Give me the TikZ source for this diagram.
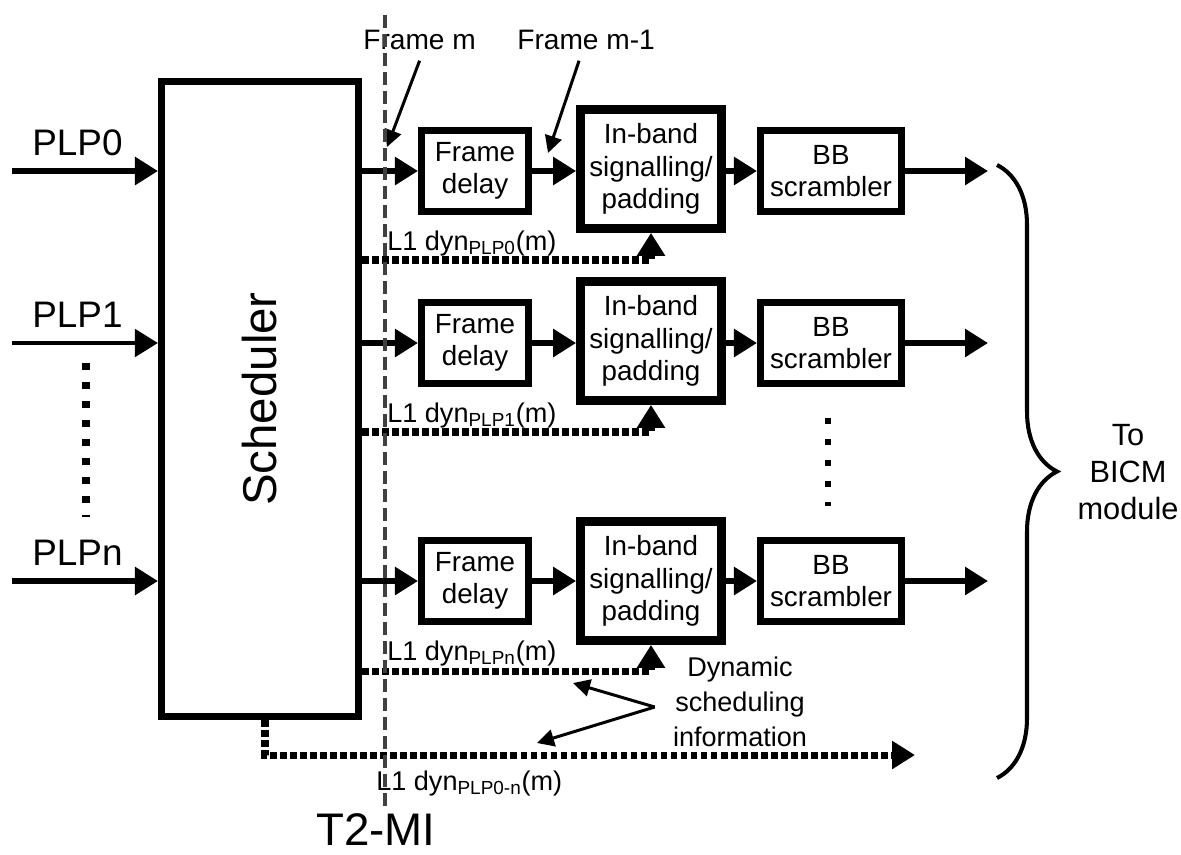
\documentclass[tikz,border=0pt]{standalone}
\usepackage{fontspec}
\setmainfont{Liberation Sans}
\usepackage{tikz}
\usetikzlibrary{positioning,arrows.meta,decorations.pathreplacing}
\usepackage{xcolor}
\definecolor{tmigray}{RGB}{64,64,64}

\begin{document}
\begin{tikzpicture}[
  >={Triangle[length=4.6mm,width=5.4mm]},
  blk/.style={draw,line width=4pt,inner sep=0pt,align=center,font=\fontsize{15.8}{18.5}\selectfont},
  delaybox/.style={blk,minimum width=2.14cm,minimum height=1.62cm},
  inbandbox/.style={blk,line width=5pt,minimum width=2.82cm,minimum height=2.38cm},
  scrbox/.style={blk,minimum width=2.82cm,minimum height=1.62cm},
  flow/.style={line width=3.6pt},
  dyn/.style={line width=4pt,dash pattern=on 3.8pt off 1.9pt},
  ptr/.style={line width=1.7pt,-{Triangle[length=3.4mm,width=3.4mm]}},
  plplab/.style={font=\fontsize{21}{25}\selectfont,inner sep=0pt},
  framelab/.style={font=\fontsize{16}{19}\selectfont,inner sep=0pt,anchor=west},
  dynlab/.style={font=\fontsize{15.4}{18}\selectfont,inner sep=0pt,anchor=base west},
  vdots/.style={line width=4pt,dash pattern=on 4pt off 6.8pt}
]
\useasboundingbox (0,0) rectangle (23.62,-17.08);

% Scheduler
\node[draw,line width=4pt,minimum width=3.94cm,minimum height=12.7cm] (sched) at (5.2,-7.98) {};
\node[rotate=90,font=\fontsize{27}{32}\selectfont] (schedlab) at (sched.center) {Scheduler};

% PLP inputs
\coordinate (in0) at (0.24,-3.42);
\coordinate (in1) at (0.24,-6.86);
\coordinate (inn) at (0.24,-11.62);
\draw[flow,->] (in0) -- (in0 -| sched.west);
\draw[flow,line width=2.8pt,->] (in1) -- (in1 -| sched.west);
\draw[flow,->] (inn) -- (inn -| sched.west);
\node[plplab,above right=0.3cm and 0.4cm of in0] (plp0) {PLP0};
\node[plplab,above right=0.3cm and 0.4cm of in1] (plp1) {PLP1};
\node[plplab,above right=0.3cm and 0.4cm of inn] (plpn) {PLPn};
\draw[vdots] (1.72,-7.26) -- (1.72,-10.34);

% Row 0
\node[delaybox] (fd0) at (9.5,-3.42) {Frame\\delay};
\node[inbandbox] (inb0) at (13.02,-3.38) {In-band\\signalling/\\padding};
\node[scrbox] (bb0) at (16.62,-3.42) {BB\\scrambler};
\coordinate (out0) at (19.76,-3.42);
\draw[flow,->] (sched.east |- fd0) -- (fd0.west);
\draw[flow,->] (fd0.east) -- (fd0.east -| inb0.west);
\draw[flow,->] (bb0.west -| inb0.east) -- (bb0.west);
\draw[flow,->] (bb0.east) -- (out0);
\draw[dyn,->] (sched.east |- 0,-5.2) -| (inb0.south);
\node[dynlab] (l1d0) at (7.74,-5.0) {L1 dyn\textsubscript{PLP0}(m)};

% Row 1
\node[delaybox] (fd1) at (9.5,-6.86) {Frame\\delay};
\node[inbandbox] (inb1) at (13.02,-6.82) {In-band\\signalling/\\padding};
\node[scrbox] (bb1) at (16.62,-6.86) {BB\\scrambler};
\coordinate (out1) at (19.76,-6.86);
\draw[flow,->] (sched.east |- fd1) -- (fd1.west);
\draw[flow,->] (fd1.east) -- (fd1.east -| inb1.west);
\draw[flow,->] (bb1.west -| inb1.east) -- (bb1.west);
\draw[flow,->] (bb1.east) -- (out1);
\draw[dyn,->] (sched.east |- 0,-8.64) -| (inb1.south);
\node[dynlab] (l1d1) at (7.74,-8.44) {L1 dyn\textsubscript{PLP1}(m)};
\draw[vdots,line width=3.4pt,dash pattern=on 3.4pt off 8.5pt] (16.56,-8.36) -- (16.56,-10.12);

% Row n
\node[delaybox] (fdn) at (9.5,-11.62) {Frame\\delay};
\node[inbandbox] (inbn) at (13.02,-11.62) {In-band\\signalling/\\padding};
\node[scrbox] (bbn) at (16.62,-11.62) {BB\\scrambler};
\coordinate (outn) at (19.76,-11.62);
\draw[flow,->] (sched.east |- fdn) -- (fdn.west);
\draw[flow,->] (fdn.east) -- (fdn.east -| inbn.west);
\draw[flow,->] (bbn.west -| inbn.east) -- (bbn.west);
\draw[flow,->] (bbn.east) -- (outn);
\draw[dyn,->] (sched.east |- 0,-13.42) -| (inbn.south);
\node[dynlab] (l1dn) at (7.74,-13.2) {L1 dyn\textsubscript{PLPn}(m)};

% Common dynamic scheduling information
\coordinate (botend) at (18.3,-15.1);
\draw[dyn,->] (sched.south -| 5.3,0) |- (botend);
\node[dynlab] (l1dall) at (7.52,-15.8) {L1 dyn\textsubscript{PLP0-n}(m)};
\node[font=\fontsize{15.4}{20}\selectfont,align=center,inner sep=0pt] (dsinfo) at (14.8,-14.04) {Dynamic\\scheduling\\information};
\coordinate (dsj) at ([xshift=-0.36cm,yshift=-0.1cm]dsinfo.west);
\coordinate (dst1) at (11.46,-13.66);
\coordinate (dst2) at (10.74,-14.86);
\draw[ptr] (dsj) -- (dst1);
\draw[ptr] (dsj) -- (dst2);

% Frame pointers
\node[framelab] (fm) at (7.26,-0.8) {Frame m};
\node[framelab] (fm1) at (10.34,-0.8) {Frame m-1};
\coordinate (fmtip) at (7.74,-2.94);
\coordinate (fm1tip) at (10.96,-3.06);
\draw[ptr] ([yshift=-6pt]fm.south) -- (fmtip);
\draw[ptr] ([xshift=-4pt,yshift=-6pt]fm1.south) -- (fm1tip);

% To BICM
\draw[line width=2.3pt,decorate,decoration={brace,amplitude=1.2cm}] (19.94,-3.3) -- (19.94,-15.56);
\node[font=\fontsize{17.5}{21}\selectfont,align=center,inner sep=0pt] (bicm) at (22.56,-9.44) {To\\BICM\\module};

% T2-MI boundary
\coordinate (tmitop) at (7.7,-0.3);
\coordinate (tmibot) at (7.7,-16.2);
\draw[tmigray,line width=2.8pt,dash pattern=on 7.4pt off 3.4pt] (tmitop) -- (tmibot);
\node[font=\fontsize{26}{30}\selectfont,inner sep=0pt] (tmi) at (7.52,-16.6) {T2-MI};

\end{tikzpicture}
\end{document}
